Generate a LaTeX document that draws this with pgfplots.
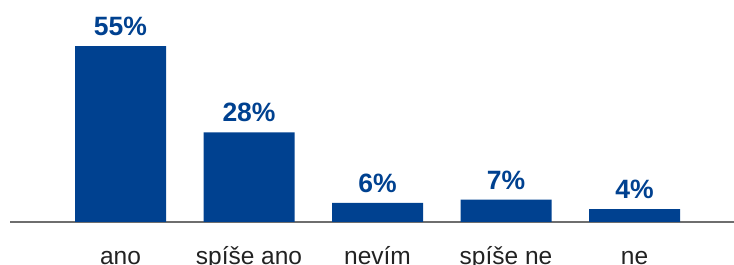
\documentclass[border=0pt]{standalone}
\usepackage{pgfplots}
\pgfplotsset{compat=1.18}
\usepackage{fontspec}
\setmainfont{Liberation Sans}
\definecolor{barblue}{HTML}{004190}
\definecolor{axisgray}{HTML}{6E6E6E}
\definecolor{textdark}{HTML}{222222}
\begin{document}
\begin{tikzpicture}
\path[use as bounding box] (-10pt,-43pt) rectangle (724pt,222pt);
\begin{axis}[
  at={(0pt,0pt)}, anchor=south west,
  scale only axis,
  width=724pt, height=222pt,
  xmin=-0.86, xmax=4.774,
  ymin=0, ymax=69.4,
  axis x line*=bottom,
  axis y line=none,
  x axis line style={-, draw=axisgray, line width=2pt, shorten >=-20pt},
  xtick=data,
  xticklabels={ano, spíše ano, nevím, spíše ne, ne},
  major tick length=0pt,
  xticklabel style={anchor=base, yshift=-42pt, font=\fontsize{24.5}{28}\selectfont, text=textdark},
  ytick=\empty,
  /pgf/number format/assume math mode=true,
  ybar,
  bar width=91pt,
  nodes near coords={\pgfmathprintnumber{\pgfplotspointmeta}\%},
  every node near coord/.append style={anchor=base, yshift=10.5pt, font=\fontsize{26.5}{30}\selectfont\bfseries, text=barblue, inner sep=0pt},
  clip=false,
]
\addplot[fill=barblue, draw=none] coordinates {(0,55) (1,28) (2,6) (3,7) (4,4)};
\end{axis}
\end{tikzpicture}
\end{document}
